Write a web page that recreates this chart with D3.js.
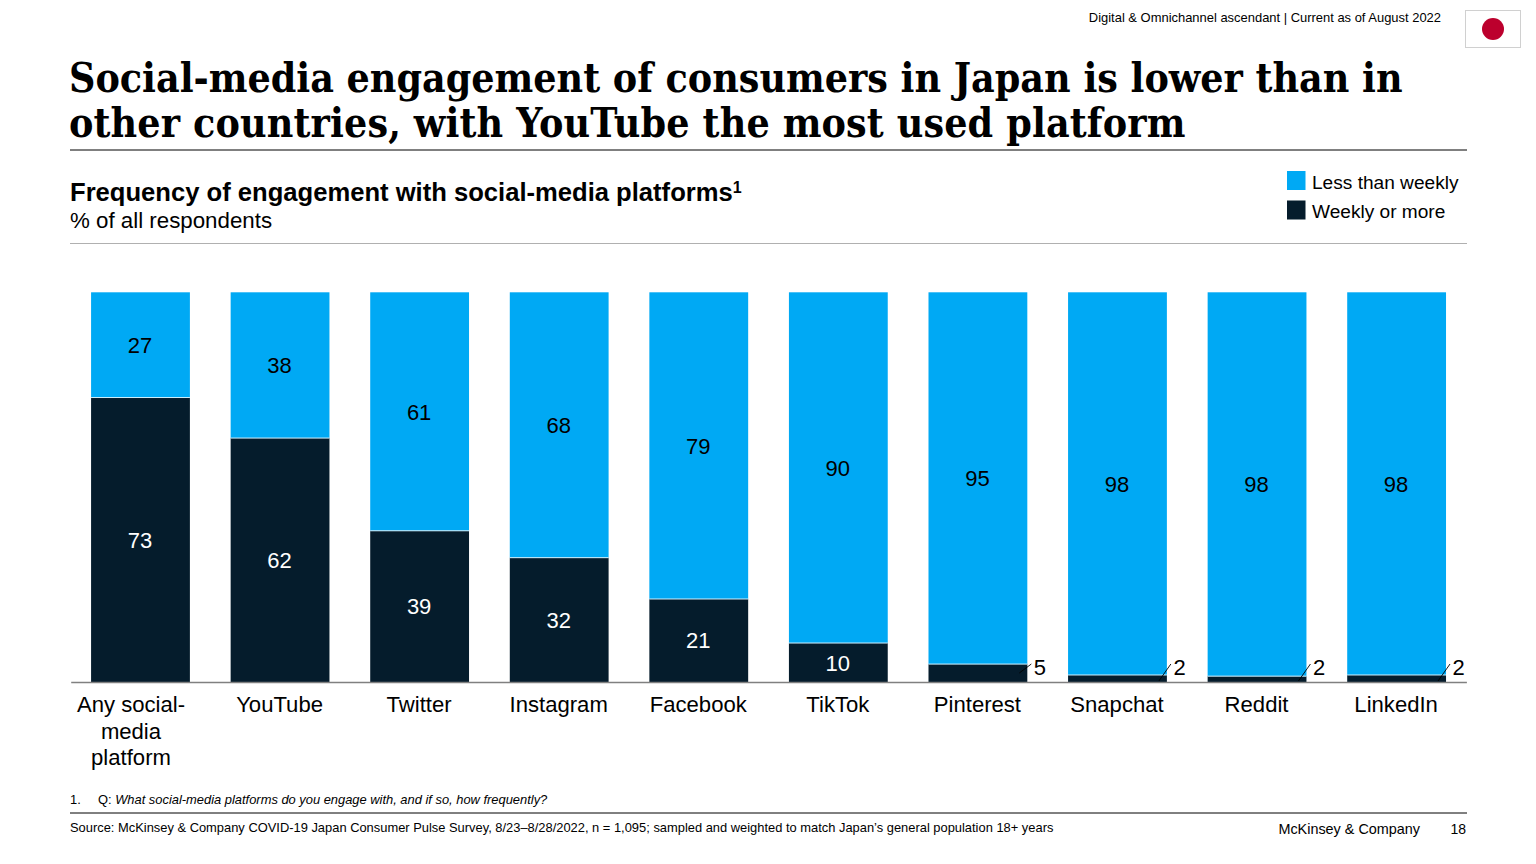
<!DOCTYPE html>
<html><head><meta charset="utf-8">
<script src="https://cdn.jsdelivr.net/npm/d3@7"></script>
<style>
html,body{margin:0;padding:0;background:#fff;overflow:hidden}
svg{display:block}
text{font-family:"Liberation Sans",Arial,sans-serif;fill:#000}
</style></head><body>
<svg id="c" width="1536" height="864"></svg>
<script>
const categories=["Any social-media platform","YouTube","Twitter","Instagram","Facebook","TikTok","Pinterest","Snapchat","Reddit","LinkedIn"];
const categoryLines=[["Any social-","media","platform"],["YouTube"],["Twitter"],["Instagram"],["Facebook"],["TikTok"],["Pinterest"],["Snapchat"],["Reddit"],["LinkedIn"]];
const weeklyLabels=[73,62,39,32,21,10,5,2,2,2];
const lessLabels=[27,38,61,68,79,90,95,98,98,98];
const weeklyShare=[73,62.6,38.8,31.9,21.3,10,4.6,1.8,1.5,1.8];
const seriesNames=["Less than weekly","Weekly or more"];
const colors=["#00A9F4","#051C2C"];
const titleLines=["Social-media engagement of consumers in Japan is lower than in","other countries, with YouTube the most used platform"];
const titleSpacing=[-0.02,0.13];

const svg=d3.select("#c");
const x=d3.scaleBand().domain(categories).range([70.7,1466.4]).paddingInner(0.292).paddingOuter(0.146);
const y=d3.scaleLinear().domain([0,100]).range([682,292.3]);

const T=(px,py,s,size,o={})=>{const t=svg.append("text").attr("x",px).attr("y",py).attr("font-size",size).text(s);
 if(o.weight)t.attr("font-weight",o.weight);if(o.style)t.attr("font-style",o.style);if(o.anchor)t.attr("text-anchor",o.anchor);
 if(o.fill)t.style("fill",o.fill);if(o.family)t.style("font-family",o.family);if(o.ls)t.attr("letter-spacing",o.ls);return t;};
const L=(a,b,c,d,col,w)=>svg.append("line").attr("x1",a).attr("y1",b).attr("x2",c).attr("y2",d).attr("stroke",col).attr("stroke-width",w);

// header
T(1441,22,"Digital & Omnichannel ascendant | Current as of August 2022",12.95,{anchor:"end"});
svg.append("rect").attr("x",1465.5).attr("y",10.5).attr("width",55).attr("height",37).attr("fill","#fff").attr("stroke","#d0d0d0");
svg.append("circle").attr("cx",1493).attr("cy",29).attr("r",11).attr("fill","#BC002D");

titleLines.forEach((s,i)=>T(69,92+i*45,s,40.7,{weight:"bold",ls:titleSpacing[i],family:"'DejaVu Serif Condensed','DejaVu Serif',serif"}));
L(70,150,1467,150,"#000",1);

const sub=T(70,201,"Frequency of engagement with social-media platforms",25.6,{weight:"bold"});
sub.append("tspan").attr("dy",-8).attr("font-size",16).text("1");
T(70,228,"% of all respondents",22.3);
L(70,243.5,1467,243.5,"#b0b0b0",1);

// legend
seriesNames.forEach((s,i)=>{
 svg.append("rect").attr("x",1287).attr("y",171+i*29.5).attr("width",18.5).attr("height",19).attr("fill",colors[i]);
 T(1312,189+i*29,s,19.1);
});

// bars
const g=svg.append("g");
const stack=d3.stack().keys(["weekly","less"])(categories.map((c,i)=>({c,weekly:weeklyShare[i],less:100-weeklyShare[i]})));
stack.forEach((layer,k)=>{
 g.selectAll(null).data(layer).join("rect")
  .attr("x",d=>x(d.data.c)).attr("width",x.bandwidth())
  .attr("y",d=>y(d[1])).attr("height",d=>y(d[0])-y(d[1]))
  .attr("fill",k===0?colors[1]:colors[0]);
});
// separators
g.selectAll(null).data(categories).join("line")
 .attr("x1",c=>x(c)).attr("x2",c=>x(c)+x.bandwidth())
 .attr("y1",(c,i)=>y(weeklyShare[i])).attr("y2",(c,i)=>y(weeklyShare[i]))
 .attr("stroke","#cfeefc").attr("stroke-width",1);

// value labels
const vs=22;
categories.forEach((c,i)=>{
 const cx=x(c)+x.bandwidth()/2-0.5;
 T(cx,y(weeklyShare[i]+(100-weeklyShare[i])/2)+8,lessLabels[i],vs,{anchor:"middle"});
 if(weeklyLabels[i]>=10) T(cx,y(weeklyShare[i]/2)+8,weeklyLabels[i],vs,{anchor:"middle",fill:"#fff"});
 else{
  const r=x(c)+x.bandwidth();
  L(r-8,weeklyLabels[i]>=5?y(0)-9:y(0)-1,r+4,y(0)-18,"#000",0.9);
  T(r+6.5,y(0)-7,weeklyLabels[i],vs);
 }
});

// axis
const ax=svg.append("g").attr("transform","translate(0,682)").call(d3.axisBottom(x).tickSize(0).tickPadding(0));
ax.select(".domain").attr("stroke","#808080").attr("stroke-width",1.5);
ax.selectAll("text").each(function(c,i){
 const t=d3.select(this).text(null).attr("font-size",22.1).attr("y",0).attr("dy",null);
 const dx=i===0?-9.5:-0.5;
 categoryLines[i].forEach((s,j)=>t.append("tspan").attr("x",dx).attr("y",30+j*26.5).text(s));
});
ax.attr("font-family",null).attr("font-size",null);

// footer
T(70,804,"1.",12.9);
T(98,804,"Q: ",12.9).append("tspan").attr("font-style","italic").text("What social-media platforms do you engage with, and if so, how frequently?");
L(70,813,1467,813,"#000",1);
T(70,832,"Source: McKinsey & Company COVID-19 Japan Consumer Pulse Survey, 8/23–8/28/2022, n = 1,095; sampled and weighted to match Japan’s general population 18+ years",12.9);
T(1420,834,"McKinsey & Company",14.4,{anchor:"end"});
T(1466,834,"18",14,{anchor:"end"});
</script></body></html>
